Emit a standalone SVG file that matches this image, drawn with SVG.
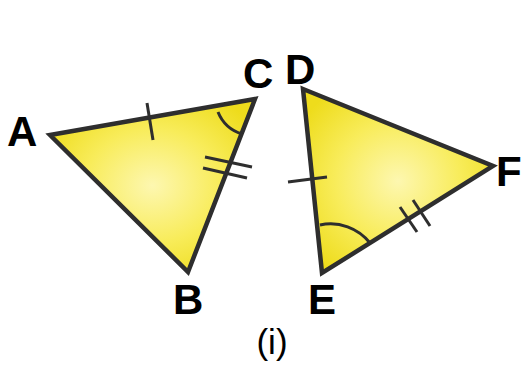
<svg xmlns="http://www.w3.org/2000/svg" width="522" height="373" viewBox="0 0 522 373">
<defs>
<radialGradient id="g1" cx="0.5" cy="0.5" r="0.6">
<stop offset="0" stop-color="#fdf7b0"/>
<stop offset="0.55" stop-color="#f8ec5a"/>
<stop offset="1" stop-color="#eedc1c"/>
</radialGradient>
</defs>
<style>
.tri{fill:url(#g1);stroke:#2e2e2e;stroke-width:4.5;stroke-linejoin:miter}
.mk{fill:none;stroke:#2e2e2e;stroke-width:3}
.lbl{font-family:"Liberation Sans",Arial,sans-serif;font-weight:bold;font-size:42px;fill:#000}
.cap{font-family:"Liberation Sans",Arial,sans-serif;font-size:35px;fill:#000}
</style>
<rect width="522" height="373" fill="#fff"/>
<g id="triangleABC">
<polygon class="tri" points="50,135 255,99 188,272"/>
<line class="mk" x1="147" y1="103" x2="153" y2="140"/>
<line class="mk" x1="205" y1="157" x2="252" y2="167"/>
<line class="mk" x1="203" y1="168" x2="247" y2="178"/>
<path class="mk" d="M218,112 A38,38 0 0 0 242,134"/>
</g>
<g id="triangleDEF">
<polygon class="tri" points="303,89 493,166 322,273"/>
<line class="mk" x1="288" y1="182" x2="327" y2="177"/>
<line class="mk" x1="400" y1="207" x2="417" y2="232"/>
<line class="mk" x1="413" y1="200" x2="430" y2="226"/>
<path class="mk" d="M320,225 A50,50 0 0 1 370,243"/>
</g>
<g id="labels">
<text class="lbl" x="7" y="146">A</text>
<text class="lbl" x="243" y="88">C</text>
<text class="lbl" x="285" y="84">D</text>
<text class="lbl" x="173" y="314">B</text>
<text class="lbl" x="308" y="314">E</text>
<text class="lbl" x="496" y="186">F</text>
<text class="cap" x="272" y="354" text-anchor="middle">(i)</text>
</g>
</svg>
